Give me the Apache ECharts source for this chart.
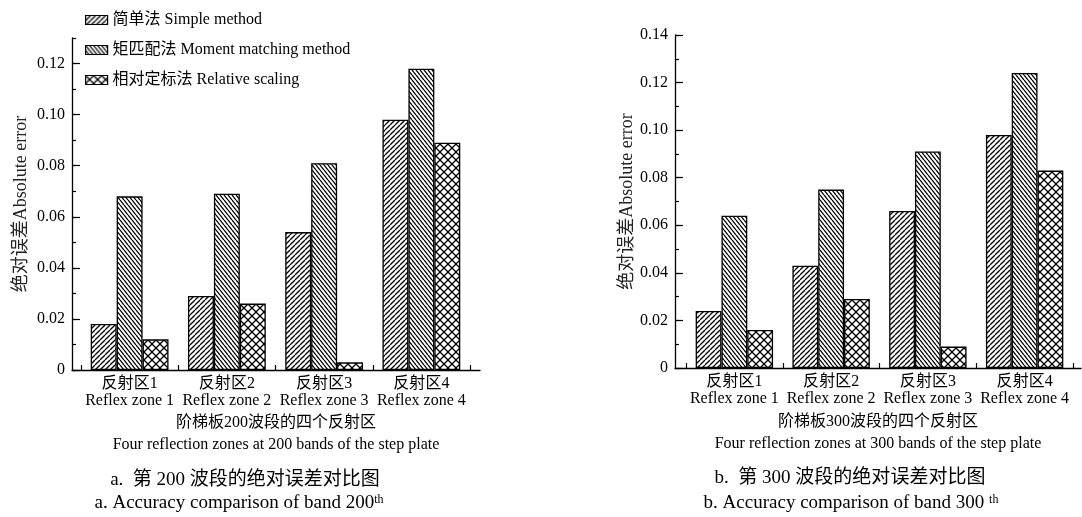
<!DOCTYPE html>
<html><head><meta charset="utf-8">
<script src="https://cdn.jsdelivr.net/npm/echarts@6/dist/echarts.min.js"></script>
<style>html,body{margin:0;padding:0;background:#fff}#c{width:1082px;height:517px}</style>
</head><body><div id="c"></div>
<script>
// ---- data ----
var categoriesZh = ['反射区1', '反射区2', '反射区3', '反射区4'];
var categoriesEn = ['Reflex zone 1', 'Reflex zone 2', 'Reflex zone 3', 'Reflex zone 4'];
var seriesNames = ['简单法 Simple method', '矩匹配法 Moment matching method', '相对定标法 Relative scaling'];
var band200Simple = [0.018, 0.029, 0.054, 0.098];
var band200Moment = [0.068, 0.069, 0.081, 0.118];
var band200Relative = [0.012, 0.026, 0.003, 0.089];
var band300Simple = [0.024, 0.043, 0.066, 0.098];
var band300Moment = [0.064, 0.075, 0.091, 0.124];
var band300Relative = [0.016, 0.029, 0.009, 0.083];
var yTicks200 = [0, 0.02, 0.04, 0.06, 0.08, 0.10, 0.12];
var yTicks300 = [0, 0.02, 0.04, 0.06, 0.08, 0.10, 0.12, 0.14];
var yMax200 = 0.13, yMax300 = 0.14;
var xTitle200 = ['阶梯板200波段的四个反射区', 'Four reflection zones at 200 bands of the step plate'];
var xTitle300 = ['阶梯板300波段的四个反射区', 'Four reflection zones at 300 bands of the step plate'];
var yTitle = '绝对误差Absolute error';
var captionA = ['a.  第 200 波段的绝对误差对比图', 'a. Accuracy comparison of band 200', 'th'];
var captionB = ['b.  第 300 波段的绝对误差对比图', 'b. Accuracy comparison of band 300 ', 'th'];

// ---- patterns ----
function tile(w, h, kinds) {
  var c = document.createElement('canvas'); c.width = w; c.height = h;
  var g = c.getContext('2d');
  g.fillStyle = '#fff'; g.fillRect(0, 0, w, h);
  g.strokeStyle = '#000'; g.lineWidth = 1.25;
  kinds.forEach(function (k) {
    for (var o = -w; o <= w; o += w) {
      g.beginPath();
      if (k === 'fwd') { g.moveTo(o, h); g.lineTo(o + w, 0); }
      else { g.moveTo(o, 0); g.lineTo(o + w, h); }
      g.stroke();
    }
  });
  return {image: c, repeat: 'repeat'};
}
var patterns = [tile(5, 5, ['fwd']), tile(4, 5, ['back']), tile(8, 8, ['fwd', 'back'])];

var FONT = '"Liberation Serif", "Noto Sans CJK SC", serif';
var chart = echarts.init(document.getElementById('c'));

function lineXAxis(grid, title, gap) {
  return {type: 'value', gridIndex: grid, min: 0, max: 1,
    axisLine: {show: true, onZero: false, lineStyle: {color: '#000', width: 1.3}},
    axisTick: {show: false}, axisLabel: {show: false}, splitLine: {show: false},
    name: title.join('\n'), nameLocation: 'middle', nameGap: gap,
    nameTextStyle: {fontFamily: FONT, fontSize: 16, color: '#000', lineHeight: 22}};
}
function catXAxis(grid) {
  return {type: 'category', gridIndex: grid, data: categoriesZh,
    axisLine: {show: false},
    axisTick: {show: true, inside: true, length: 5, lineStyle: {color: '#000', width: 1.2}},
    axisLabel: {interval: 0, margin: 5, fontFamily: FONT, fontSize: 16, color: '#000', lineHeight: 17,
      formatter: function (v, i) { return v + '\n' + categoriesEn[i]; }},
    splitLine: {show: false}};
}
function majorY(grid, max, ticks, nameGap) {
  return {type: 'value', gridIndex: grid, position: 'left', min: 0, max: max, interval: 0.02,
    axisLine: {show: true, lineStyle: {color: '#000', width: 1.3}},
    axisTick: {show: true, inside: true, length: 8, customValues: ticks, lineStyle: {color: '#000', width: 1.2}},
    axisLabel: {margin: 7, fontFamily: FONT, fontSize: 16, color: '#000', customValues: ticks,
      formatter: function (v) { return v === 0 ? '0' : v.toFixed(2); }},
    splitLine: {show: false},
    name: yTitle, nameLocation: 'middle', nameGap: nameGap, nameRotate: 90,
    nameTextStyle: {fontFamily: FONT, fontSize: 18, color: '#222'}};
}
function minorY(grid, max) {
  return {type: 'value', gridIndex: grid, position: 'left', offset: 0, min: 0, max: max, interval: 0.01,
    axisLine: {show: false},
    axisTick: {show: true, inside: true, length: 4, lineStyle: {color: '#000', width: 1.2}},
    axisLabel: {show: false}, splitLine: {show: false}};
}
function hiddenY(grid, max) {
  return {type: 'value', gridIndex: grid, min: 0, max: max, show: false, splitLine: {show: false}};
}
function bar(nameIdx, data, xi, yi) {
  return {type: 'bar', name: seriesNames[nameIdx], data: data, xAxisIndex: xi, yAxisIndex: yi,
    barGap: '0%', barCategoryGap: '20%',
    itemStyle: {color: patterns[nameIdx], borderColor: '#000', borderWidth: 1.3},
    emphasis: {disabled: true}, animation: false};
}

chart.setOption({
  animation: false,
  grid: [
    {left: 72, right: 602, top: 38, bottom: 147},
    {left: 81, right: 612, top: 38, bottom: 147},
    {left: 675, right: 1, top: 35, bottom: 149},
    {left: 686, right: 9, top: 35, bottom: 149}
  ],
  xAxis: [lineXAxis(0, xTitle200, 42), catXAxis(1), lineXAxis(2, xTitle300, 43), catXAxis(3)],
  yAxis: [majorY(0, yMax200, yTicks200, 42), minorY(0, yMax200), hiddenY(1, yMax200),
          majorY(2, yMax300, yTicks300, 39), minorY(2, yMax300), hiddenY(3, yMax300)],
  legend: {orient: 'vertical', left: 80, top: 7, itemWidth: 22, itemHeight: 9, itemGap: 14,
    icon: 'rect', data: seriesNames,
    itemStyle: {borderColor: '#000', borderWidth: 1.2},
    textStyle: {fontFamily: FONT, fontSize: 16, color: '#000', lineHeight: 16}},
  series: [
    bar(0, band200Simple, 1, 2), bar(1, band200Moment, 1, 2), bar(2, band200Relative, 1, 2),
    bar(0, band300Simple, 3, 5), bar(1, band300Moment, 3, 5), bar(2, band300Relative, 3, 5)
  ],
  graphic: [
    {type: 'text', x: 245, y: 480, style: {text: captionA[0], font: '19px ' + FONT, fill: '#000', align: 'center', verticalAlign: 'middle'}},
    {type: 'text', x: 239, y: 503, style: {text: '{m|' + captionA[1] + '}{s|' + captionA[2] + '}', align: 'center', verticalAlign: 'middle',
      rich: {m: {fontSize: 19, fontFamily: FONT, fill: '#000'}, s: {fontSize: 12, fontFamily: FONT, fill: '#000', verticalAlign: 'top'}}}},
    {type: 'text', x: 850, y: 478, style: {text: captionB[0], font: '19px ' + FONT, fill: '#000', align: 'center', verticalAlign: 'middle'}},
    {type: 'text', x: 851, y: 503, style: {text: '{m|' + captionB[1] + '}{s|' + captionB[2] + '}', align: 'center', verticalAlign: 'middle',
      rich: {m: {fontSize: 19, fontFamily: FONT, fill: '#000'}, s: {fontSize: 12, fontFamily: FONT, fill: '#000', verticalAlign: 'top'}}}}
  ]
});
</script></body></html>
